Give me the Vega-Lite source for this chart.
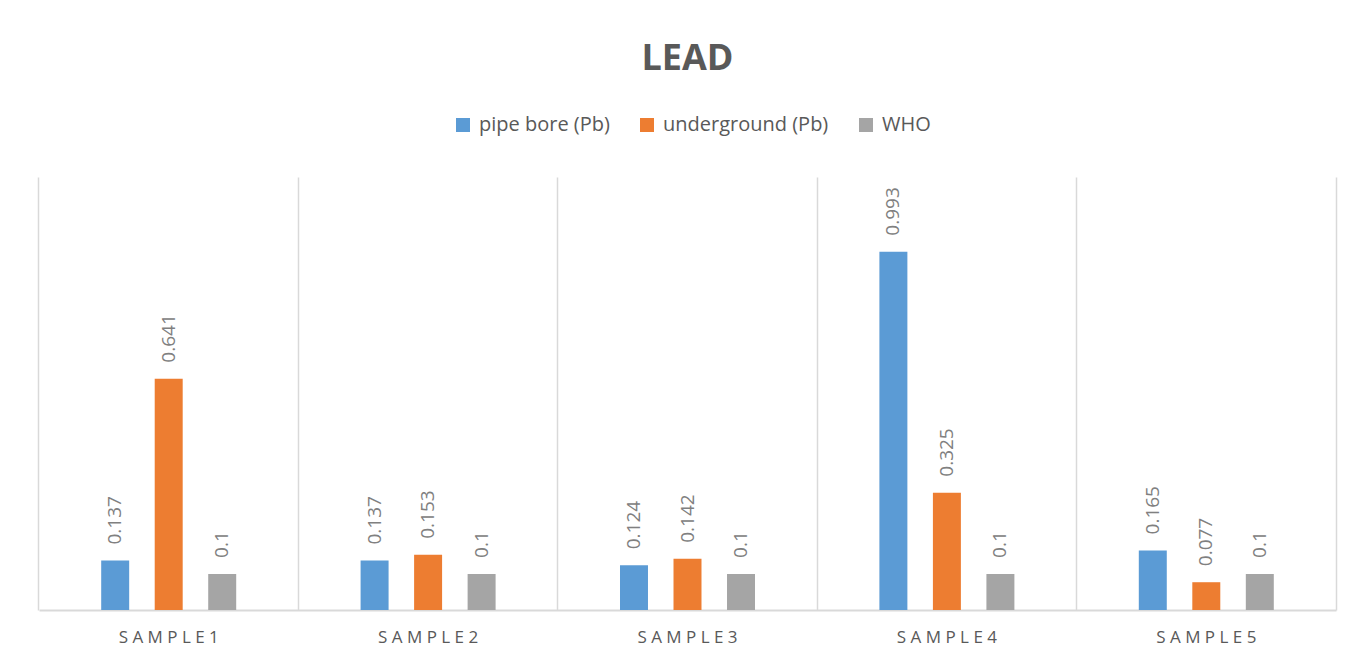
{
  "$schema": "https://vega.github.io/schema/vega-lite/v6.json",
  "width": 1297,
  "height": 433,
  "autosize": {"type": "none"},
  "padding": {"left": 39, "top": 177, "right": 15, "bottom": 52},
  "background": "white",
  "title": {
    "text": "LEAD",
    "font": "Open Sans",
    "fontSize": 36,
    "fontWeight": "bold",
    "color": "#595959",
    "anchor": "middle",
    "offset": 37
  },
  "data": {
    "values": [
      {"sample": "SAMPLE1", "series": "pipe bore (Pb)", "value": 0.137},
      {"sample": "SAMPLE1", "series": "underground (Pb)", "value": 0.641},
      {"sample": "SAMPLE1", "series": "WHO", "value": 0.1},
      {"sample": "SAMPLE2", "series": "pipe bore (Pb)", "value": 0.137},
      {"sample": "SAMPLE2", "series": "underground (Pb)", "value": 0.153},
      {"sample": "SAMPLE2", "series": "WHO", "value": 0.1},
      {"sample": "SAMPLE3", "series": "pipe bore (Pb)", "value": 0.124},
      {"sample": "SAMPLE3", "series": "underground (Pb)", "value": 0.142},
      {"sample": "SAMPLE3", "series": "WHO", "value": 0.1},
      {"sample": "SAMPLE4", "series": "pipe bore (Pb)", "value": 0.993},
      {"sample": "SAMPLE4", "series": "underground (Pb)", "value": 0.325},
      {"sample": "SAMPLE4", "series": "WHO", "value": 0.1},
      {"sample": "SAMPLE5", "series": "pipe bore (Pb)", "value": 0.165},
      {"sample": "SAMPLE5", "series": "underground (Pb)", "value": 0.077},
      {"sample": "SAMPLE5", "series": "WHO", "value": 0.1}
    ]
  },
  "encoding": {
    "x": {
      "field": "sample",
      "type": "nominal",
      "scale": {"paddingInner": 0.1, "paddingOuter": 0.05},
      "axis": {
        "title": null,
        "labelAngle": 0,
        "labelFont": "Open Sans",
        "labelFontSize": 17,
        "labelColor": "#595959",
        "labelPadding": 19,
        "labelExpr": "join(split(datum.label, ''), ' ')",
        "ticks": false,
        "domainColor": "#d9d9d9",
        "domainWidth": 2,
        "grid": true,
        "gridColor": "#d9d9d9",
        "gridWidth": 1.5,
        "bandPosition": -0.05556
      }
    },
    "xOffset": {
      "field": "series",
      "type": "nominal",
      "sort": ["pipe bore (Pb)", "underground (Pb)", "WHO"],
      "scale": {"paddingInner": 0.477, "paddingOuter": 0.92}
    },
    "y": {
      "field": "value",
      "type": "quantitative",
      "scale": {"domain": [0, 1.2], "nice": false},
      "axis": {
        "orient": "right",
        "title": null,
        "labels": false,
        "ticks": false,
        "grid": false,
        "domain": true,
        "domainColor": "#d9d9d9",
        "domainWidth": 1.5
      }
    }
  },
  "layer": [
    {
      "mark": {"type": "bar"},
      "encoding": {
        "color": {
          "field": "series",
          "type": "nominal",
          "sort": ["pipe bore (Pb)", "underground (Pb)", "WHO"],
          "scale": {
            "domain": ["pipe bore (Pb)", "underground (Pb)", "WHO"],
            "range": ["#5b9bd5", "#ed7d31", "#a5a5a5"]
          },
          "legend": {
            "title": null,
            "orient": "none",
            "legendX": 414,
            "legendY": -62,
            "direction": "horizontal",
            "symbolType": "square",
            "symbolSize": 196,
            "symbolStrokeWidth": 0,
            "labelFont": "Open Sans",
            "labelFontSize": 20,
            "labelColor": "#595959",
            "labelOffset": 6,
            "labelLimit": 400,
            "columnPadding": 27
          }
        }
      }
    },
    {
      "mark": {
        "type": "text",
        "angle": 270,
        "align": "left",
        "baseline": "middle",
        "dx": 16,
        "font": "Open Sans",
        "fontSize": 19,
        "color": "#808080"
      },
      "encoding": {
        "text": {"field": "value", "type": "quantitative"}
      }
    }
  ],
  "config": {
    "view": {"stroke": null}
  }
}
